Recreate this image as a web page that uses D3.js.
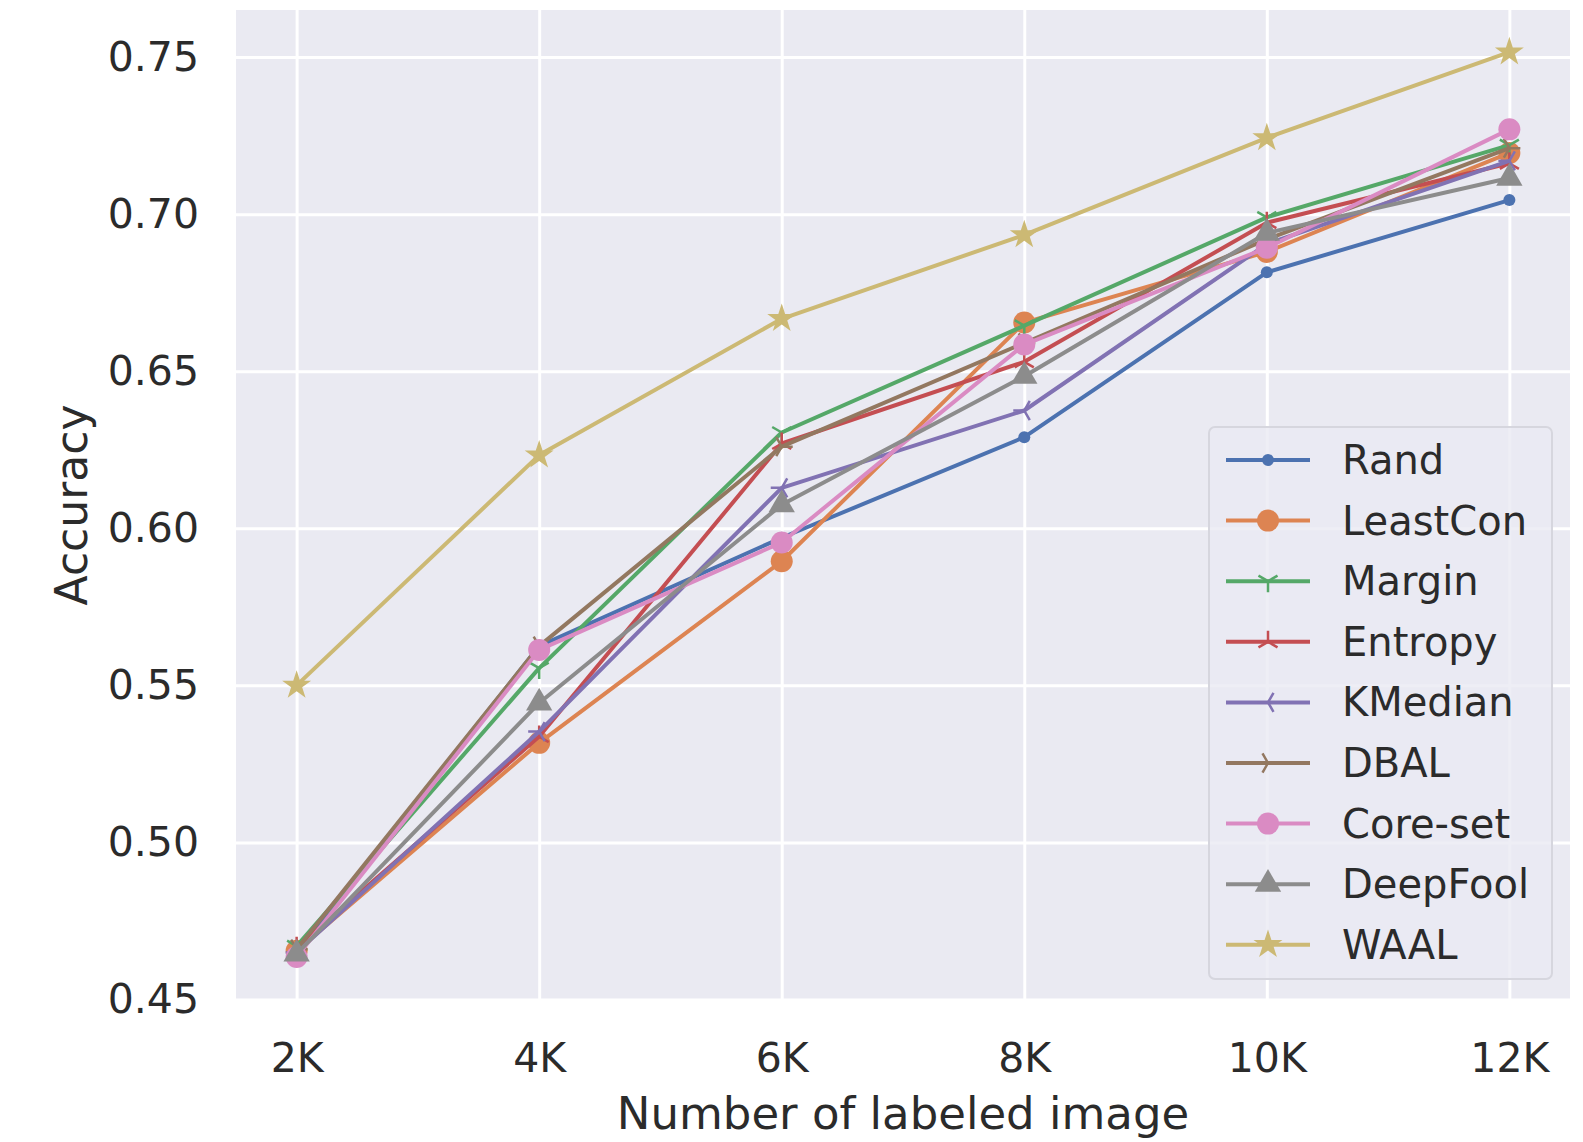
<html>
<head>
<meta charset='utf-8'>
<script src='https://d3js.org/d3.v7.min.js'></script>
<style>
  body { margin: 0; background: #fff; }
  text { font-family: 'DejaVu Sans', sans-serif; fill: #2b2b2b; }
  .axis path { display: none; }
  .axis line { stroke: #fff; stroke-width: 3; }
</style>
</head>
<body>
<div id='chart'></div>
<script type='text/javascript'>
  'use strict';

  // values
  var xValues = [2, 4, 6, 8, 10, 12];
  var xTickLabels = ['2K', '4K', '6K', '8K', '10K', '12K'];
  var yTicks = [0.45, 0.50, 0.55, 0.60, 0.65, 0.70, 0.75];

  var seriesNames = ['Rand', 'LeastCon', 'Margin', 'Entropy', 'KMedian', 'DBAL', 'Core-set', 'DeepFool', 'WAAL'];
  var rand     = [0.465, 0.5625, 0.597, 0.629, 0.6815, 0.7045];
  var leastCon = [0.4655, 0.5317, 0.5895, 0.6655, 0.688, 0.7195];
  var margin   = [0.467, 0.5555, 0.6305, 0.6645, 0.699, 0.722];
  var entropy  = [0.4665, 0.5337, 0.627, 0.653, 0.6973, 0.7162];
  var kMedian  = [0.465, 0.5353, 0.6129, 0.6375, 0.6905, 0.717];
  var dbal     = [0.466, 0.5625, 0.626, 0.659, 0.692, 0.721];
  var coreSet  = [0.4635, 0.5613, 0.5955, 0.6585, 0.6893, 0.727];
  var deepFool = [0.4645, 0.5444, 0.6075, 0.6484, 0.694, 0.7115];
  var waal     = [0.55, 0.6233, 0.6667, 0.6934, 0.7243, 0.7516];

  var seriesValues = [rand, leastCon, margin, entropy, kMedian, dbal, coreSet, deepFool, waal];
  var colors = ['#4C72B0', '#DD8452', '#55A868', '#C44E52', '#8172B3', '#937860', '#DA8BC3', '#8C8C8C', '#CCB974'];
  var markers = ['point', 'circle', 'tri_down', 'tri_up', 'tri_left', 'tri_right', 'circle', 'triangle', 'star'];

  var W = 1583, H = 1142;
  var plotL = 236, plotR = 1570, plotT = 10, plotB = 999.5;

  var svg = d3.select('#chart')
    .append('svg')
      .attr('width', W)
      .attr('height', H);

  var x = d3.scaleLinear().domain([1.5, 12.5]).range([plotL, plotR]);
  var y = d3.scaleLinear().domain([0.45, 0.765]).range([plotB, plotT]);

  svg.append('rect')
    .attr('x', plotL).attr('y', plotT)
    .attr('width', plotR - plotL).attr('height', plotB - plotT)
    .attr('fill', '#EAEAF2');

  // grid + tick labels
  var gx = svg.append('g')
    .attr('class', 'axis')
    .attr('transform', 'translate(0,' + plotB + ')')
    .call(d3.axisBottom(x).tickValues(xValues)
      .tickSize(-(plotB - plotT)).tickPadding(43)
      .tickFormat(function (d, i) { return xTickLabels[i]; }));
  gx.selectAll('text').style('font-size', '41px').attr('fill', '#2b2b2b');

  var gy = svg.append('g')
    .attr('class', 'axis')
    .attr('transform', 'translate(' + plotL + ',0)')
    .call(d3.axisLeft(y).tickValues(yTicks)
      .tickSize(-(plotR - plotL)).tickPadding(37)
      .tickFormat(d3.format('.2f')));
  gy.selectAll('text').style('font-size', '41px').attr('fill', '#2b2b2b');

  // axis titles
  svg.append('text')
    .attr('x', 903)
    .attr('y', 1129)
    .attr('text-anchor', 'middle')
    .style('font-size', '45px')
    .text('Number of labeled image');

  svg.append('text')
    .attr('transform', 'translate(87,505) rotate(-90)')
    .attr('text-anchor', 'middle')
    .style('font-size', '44px')
    .text('Accuracy');

  function triPath(r, arms) {
    return arms.map(function (a) {
      var t = a * Math.PI / 180;
      return 'M0,0L' + (r * Math.cos(t)).toFixed(2) + ',' + (-r * Math.sin(t)).toFixed(2);
    }).join('');
  }

  function drawMarker(g, kind, color, cx, cy) {
    var m;
    if (kind === 'point') {
      m = g.append('circle').attr('r', 6).attr('fill', color);
    } else if (kind === 'circle') {
      m = g.append('circle').attr('r', 11).attr('fill', color);
    } else if (kind === 'triangle') {
      m = g.append('path').attr('d', d3.symbol().type(d3.symbolTriangle).size(300)()).attr('fill', color);
    } else if (kind === 'star') {
      m = g.append('path').attr('d', d3.symbol().type(d3.symbolStar).size(260)()).attr('fill', color);
    } else {
      var arms = {
        tri_down: [270, 30, 150],
        tri_up: [90, 210, 330],
        tri_left: [180, 60, 300],
        tri_right: [0, 120, 240]
      }[kind];
      m = g.append('path').attr('d', triPath(11, arms))
        .attr('fill', 'none').attr('stroke', color).attr('stroke-width', 2.5);
    }
    m.attr('transform', 'translate(' + cx + ',' + cy + ')');
  }

  var line = d3.line()
    .x(function (d, i) { return x(xValues[i]); })
    .y(function (d) { return y(d); });

  seriesValues.forEach(function (vals, s) {
    var g = svg.append('g').attr('class', 'series');
    g.append('path')
      .datum(vals)
      .attr('d', line)
      .attr('fill', 'none')
      .attr('stroke', colors[s])
      .attr('stroke-width', 4)
      .attr('stroke-linejoin', 'round');
    vals.forEach(function (v, i) {
      drawMarker(g, markers[s], colors[s], x(xValues[i]), y(v));
    });
  });

  // legend
  var lg = svg.append('g').attr('transform', 'translate(1209,427)');
  lg.append('rect')
    .attr('width', 343).attr('height', 552)
    .attr('rx', 6)
    .attr('fill', '#EAEAF2').attr('fill-opacity', 0.8)
    .attr('stroke', '#D6D6DE').attr('stroke-width', 2);

  seriesNames.forEach(function (name, s) {
    var ry = 33 + s * 60.6;
    var row = lg.append('g');
    row.append('line')
      .attr('x1', 17).attr('x2', 101)
      .attr('y1', ry).attr('y2', ry)
      .attr('stroke', colors[s]).attr('stroke-width', 4);
    drawMarker(row, markers[s], colors[s], 59, ry);
    row.append('text')
      .attr('x', 133).attr('y', ry + 14)
      .style('font-size', '40px')
      .text(name);
  });
</script>
</body>
</html>
